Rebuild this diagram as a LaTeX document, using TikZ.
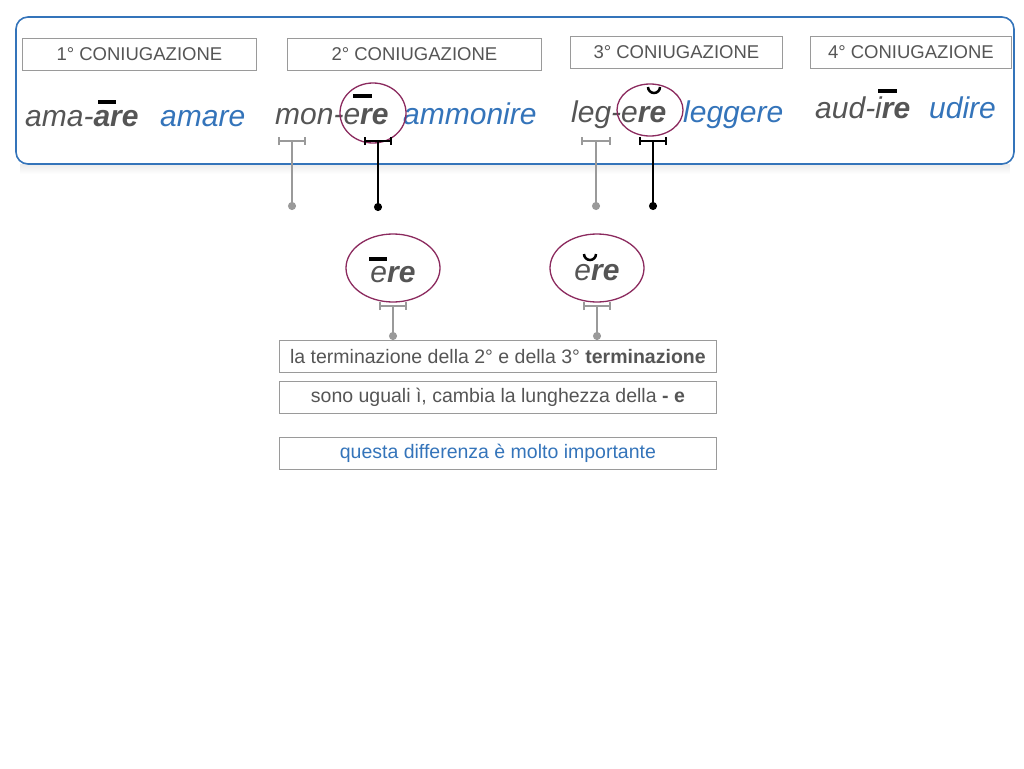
\documentclass[tikz,border=0pt]{standalone}
\usepackage{fontspec}
\setmainfont{Liberation Sans}
\usetikzlibrary{shapes.geometric,arrows.meta}
\definecolor{tg}{HTML}{555555}
\definecolor{bl}{HTML}{3474BA}
\definecolor{bx}{HTML}{9A9A9A}
\definecolor{pl}{HTML}{8B2A5E}
\tikzset{
 hdr/.style={draw=bx,line width=0.8pt,text=tg,font=\fontsize{18.5}{21}\selectfont,inner sep=0pt,anchor=north west},
 word/.style={font=\fontsize{30}{33}\selectfont\itshape,inner sep=0pt,anchor=base west},
 ring/.style={draw=pl,line width=1.3pt,ellipse,inner sep=0pt},
 macr/.style={line width=3.5pt},
 gbr/.style={draw=bx,line width=1.5pt},
 kbr/.style={draw=black,line width=1.5pt},
 tip/.style={-{Circle[length=8pt]}},
 tbox/.style={draw=bx,line width=0.8pt,font=\fontsize{19.5}{22}\selectfont,inner sep=0pt,minimum width=437pt,minimum height=32pt,anchor=north west}
}
\begin{document}
\begin{tikzpicture}[x=1pt,y=-1pt]
\useasboundingbox (0,0) rectangle (1024,768);
\foreach \i in {0,...,10} \fill[black,opacity=0.008] (20,164) rectangle (1010,164+\i);
\draw[bl,line width=1.6pt,rounded corners=12pt,fill=white] (16,17) rectangle (1014,164);
\node[hdr,minimum width=234pt,minimum height=32pt] (h1) at (22,38) {1° CONIUGAZIONE};
\node[hdr,minimum width=254pt,minimum height=32pt] (h2) at (287,38) {2° CONIUGAZIONE};
\node[hdr,minimum width=212pt,minimum height=32pt] (h3) at (570,36) {3° CONIUGAZIONE};
\node[hdr,minimum width=201pt,minimum height=32pt] (h4) at (810,36) {4° CONIUGAZIONE};
% words
\node[word,text=tg] (w1) at (25,126) {ama-\textbf{are}};
\node[word,text=bl] (w1b) at (160,126) {amare};
\node[word,text=tg] (w2) at (275,124) {mon-e\textbf{re}};
\node[word,text=bl] (w2b) at (403,124) {ammonire};
\node[word,text=tg] (w3) at (571,122) {leg-e\textbf{re}};
\node[word,text=bl] (w3b) at (683,122) {leggere};
\node[word,text=tg] (w4) at (815,118) {aud-i\textbf{re}};
\node[word,text=bl] (w4b) at (929,118) {udire};
\draw[macr] (98,102) -- (116,102);
\draw[macr] (353,96) -- (372,96);
\draw[line width=2.5pt] (648,87) arc[start angle=180,end angle=0,radius=6];
\draw[macr] (878,91) -- (897,91);
\node[ring,minimum width=66pt,minimum height=60pt] (r1) at (373,113) {};
\node[ring,minimum width=66pt,minimum height=52pt] (r2) at (650,110) {};
% brackets
\coordinate (a1) at (292,141); \coordinate (b1) at (292,210);
\coordinate (a2) at (378,141); \coordinate (b2) at (378,211);
\coordinate (a3) at (596,141); \coordinate (b3) at (596,210);
\coordinate (a4) at (653,141); \coordinate (b4) at (653,210);
\draw[gbr] (a1) ++(-13,0) -- ++(26,0) ++(0,-4) -- ++(0,8) ++(-26,0) -- ++(0,-8);
\draw[gbr,tip] (a1) -- (b1);
\draw[kbr] (a2) ++(-13,0) -- ++(26,0) ++(0,-4) -- ++(0,8) ++(-26,0) -- ++(0,-8);
\draw[kbr,tip] (a2) -- (b2);
\draw[gbr] (a3) ++(-14,0) -- ++(28,0) ++(0,-4) -- ++(0,8) ++(-28,0) -- ++(0,-8);
\draw[gbr,tip] (a3) -- (b3);
\draw[kbr] (a4) ++(-13,0) -- ++(26,0) ++(0,-4) -- ++(0,8) ++(-26,0) -- ++(0,-8);
\draw[kbr,tip] (a4) -- (b4);
% middle ellipses
\node[ring,minimum width=94pt,minimum height=68pt] (e1) at (393,268) {};
\node[ring,minimum width=94pt,minimum height=68pt] (e2) at (597,268) {};
\node[word,text=tg,anchor=base] (t1) at (393,282) {e\textbf{re}};
\node[word,text=tg,anchor=base] (t2) at (597,280) {e\textbf{re}};
\draw[macr] (369,259) -- (387,259);
\draw[line width=2.5pt] (584,254) arc[start angle=180,end angle=0,radius=6];
\coordinate (c1) at (393,306); \coordinate (d1) at (393,340);
\coordinate (c2) at (597,306); \coordinate (d2) at (597,340);
\draw[gbr] (c1) ++(-13,0) -- ++(26,0) ++(0,-4) -- ++(0,8) ++(-26,0) -- ++(0,-8);
\draw[gbr,tip] (c1) -- (d1);
\draw[gbr] (c2) ++(-13,0) -- ++(26,0) ++(0,-4) -- ++(0,8) ++(-26,0) -- ++(0,-8);
\draw[gbr,tip] (c2) -- (d2);
% text boxes
\node[tbox,text=tg] (x1) at (279,340) {la terminazione della 2° e della 3° \textbf{terminazione}};
\node[tbox,text=tg] (x2) at (279,381) {sono uguali ì, cambia la lunghezza della \textbf{- e}};
\node[tbox,text=bl] (x3) at (279,437) {questa differenza è molto importante};
\end{tikzpicture}
\end{document}
